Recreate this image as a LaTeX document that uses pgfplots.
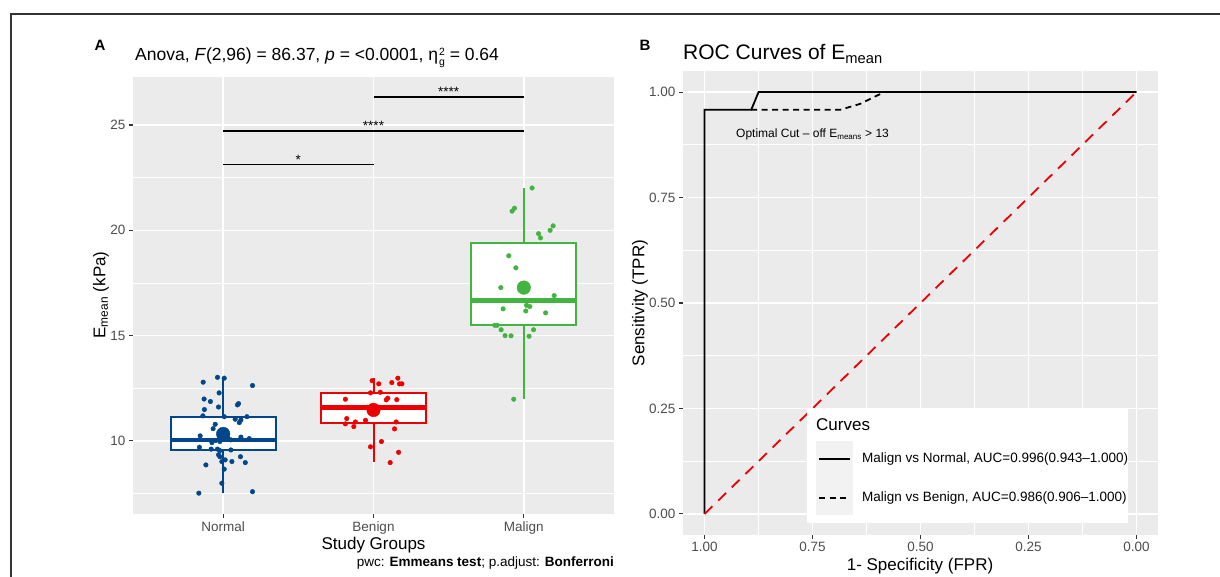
\documentclass[border=0pt]{standalone}
\usepackage{fontspec}
\setmainfont{Liberation Sans}
\usepackage{pgfplots}
\pgfplotsset{compat=1.18}
\definecolor{panel}{HTML}{EBEBEB}
\definecolor{nblue}{HTML}{00468B}
\definecolor{nred}{HTML}{ED0000}
\definecolor{ngreen}{HTML}{42B540}
\definecolor{tickgray}{HTML}{333333}
\definecolor{labgray}{HTML}{4D4D4D}
\definecolor{keybg}{HTML}{F2F2F2}
\newcommand{\fs}[1]{\fontsize{#1}{#1}\selectfont}
\pgfplotsset{
 gg/.style={
  scale only axis,
  axis background/.style={fill=panel},
  axis line style={draw=none},
  tick align=outside,
  tick pos=left,
  major tick length=4pt,
  minor tick length=0pt,
  tick style={color=tickgray, line width=1.1pt},
  grid=both,
  major grid style={white, line width=1.6pt},
  minor grid style={white, line width=0.8pt},
  ticklabel style={font=\fs{13.5}, text=labgray},
  /pgf/number format/assume math mode=true,
 },
 wh/.style={line width=2pt},
 bx/.style={line width=2pt, fill=white, line join=miter},
 md/.style={line width=4.5pt},
}
\begin{document}
\begin{tikzpicture}
\useasboundingbox (0pt,0pt) rectangle (1220pt,577pt);
\draw[line width=1.2pt, black!80] (11pt,0pt) -- (11pt,563pt) -- (1220pt,563pt);

% ---------------- Panel A ----------------
\begin{axis}[gg, at={(133pt,63pt)}, anchor=south west, width=481pt, height=437pt,
  xmin=0.4, xmax=3.6, ymin=6.53, ymax=27.28,
  xtick={1,2,3}, xticklabels={Normal,Benign,Malign},
  ytick={10,15,20,25}, minor ytick={7.5,12.5,17.5,22.5},
  ]
% Normal
\addplot[wh, nblue] coordinates {(1,7.52)(1,13.02)};
\addplot[bx, draw=nblue] coordinates {(0.65,9.57)(1.35,9.57)(1.35,11.15)(0.65,11.15)} -- cycle;
\addplot[md, nblue] coordinates {(0.65,10.05)(1.35,10.05)};
% Benign
\addplot[wh, nred] coordinates {(2,9.0)(2,12.98)};
\addplot[bx, draw=nred] coordinates {(1.65,10.84)(2.35,10.84)(2.35,12.28)(1.65,12.28)} -- cycle;
\addplot[md, nred] coordinates {(1.65,11.58)(2.35,11.58)};
% Malign
\addplot[wh, ngreen] coordinates {(3,12.01)(3,22.0)};
\addplot[bx, draw=ngreen] coordinates {(2.65,15.51)(3.35,15.51)(3.35,19.42)(2.65,19.42)} -- cycle;
\addplot[md, ngreen] coordinates {(2.65,16.66)(3.35,16.66)};

\addplot[only marks, mark=*, mark size=2.3pt, color=nblue] coordinates {
(0.962,13.02)(1.007,12.98)(0.867,12.79)(1.195,12.63)(0.973,12.28)(0.873,11.99)
(0.915,11.87)(1.102,11.77)(1.095,11.71)(0.969,11.61)(0.875,11.49)(0.865,11.19)
(1.007,11.15)(1.08,11.03)(1.158,11.15)(1.118,11.0)(1.107,10.87)(0.947,10.79)
(0.933,10.58)(0.847,10.24)(0.925,9.92)(0.978,9.97)(1.051,10.05)(1.118,10.18)
(1.173,10.11)(0.842,9.70)(0.92,9.61)(0.962,9.61)(0.978,9.54)(1.051,9.57)
(0.969,9.34)(0.978,9.25)(1.115,9.25)(1.013,9.10)(0.991,9.02)(1.058,9.02)
(1.147,8.97)(0.885,8.86)(1.007,8.66)(0.991,7.99)(0.838,7.52)(1.195,7.59)
(0.99,10.35)(1.03,10.15)(0.95,10.02)};
\addplot[only marks, mark=*, mark size=2.3pt, color=nred] coordinates {
(1.991,12.86)(2.035,12.71)(2.162,12.98)(2.122,12.77)(2.173,12.71)(2.189,12.71)
(1.98,12.28)(2.045,12.31)(1.813,11.98)(2.085,11.95)(2.095,12.03)(2.155,11.96)
(1.822,11.06)(1.88,10.90)(1.947,10.98)(2.151,10.90)(1.813,10.81)(1.869,10.68)
(2.14,10.57)(2.053,9.97)(1.98,9.72)(2.167,9.46)(2.111,8.97)(2.0,11.45)(1.96,11.6)};
\addplot[only marks, mark=*, mark size=2.3pt, color=ngreen] coordinates {
(3.055,22.01)(2.938,21.05)(2.922,20.91)(3.195,20.21)(3.175,20.00)(3.098,19.84)
(3.111,19.64)(2.9,18.79)(2.947,18.22)(2.847,17.28)(3.202,16.90)(2.862,16.27)
(3.018,16.44)(3.04,16.38)(3.013,16.17)(3.145,16.08)(2.807,15.49)(2.822,15.49)
(2.849,15.28)(2.875,15.0)(2.915,14.99)(3.035,14.97)(3.065,15.28)(2.933,11.98)};

\addplot[only marks, mark=*, mark size=6.8pt, color=nblue] coordinates {(1,10.33)};
\addplot[only marks, mark=*, mark size=6.8pt, color=nred] coordinates {(2,11.47)};
\addplot[only marks, mark=*, mark size=6.8pt, color=ngreen] coordinates {(3,17.28)};

\addplot[black, line width=1.2pt] coordinates {(1,23.11)(2,23.11)};
\addplot[black, line width=1.2pt] coordinates {(1,24.72)(3,24.72)};
\addplot[black, line width=1.2pt] coordinates {(2,26.33)(3,26.33)};
\node[anchor=base, inner sep=0pt, font=\fs{13.5}] at (axis cs:1.5,23.11) {*};
\node[anchor=base, inner sep=0pt, font=\fs{13.5}] at (axis cs:2,24.72) {****};
\node[anchor=base, inner sep=0pt, font=\fs{13.5}] at (axis cs:2.5,26.33) {****};
\end{axis}

% ---------------- Panel B ----------------
\begin{axis}[gg, at={(683pt,42pt)}, anchor=south west, width=475pt, height=464pt,
  xmin=-0.05, xmax=1.05, ymin=-0.05, ymax=1.05, x dir=reverse,
  xtick={0,0.25,0.5,0.75,1}, ytick={0,0.25,0.5,0.75,1},
  minor xtick={0.125,0.375,0.625,0.875}, minor ytick={0.125,0.375,0.625,0.875},
  xticklabel style={/pgf/number format/.cd, fixed, fixed zerofill, precision=2},
  yticklabel style={/pgf/number format/.cd, fixed, fixed zerofill, precision=2},
  ]
\addplot[black, line width=1.8pt, dash pattern=on 6pt off 4.5pt] coordinates {(0.892,0.958)(0.686,0.958)(0.64,0.972)(0.584,1)(0,1)};
\addplot[black, line width=1.8pt] coordinates {(1,0)(1,0.958)(0.892,0.958)(0.875,1)(0,1)};
\addplot[nred, line width=1.8pt, dash pattern=on 11pt off 8pt] coordinates {(1,0)(0,1)};
\node[font=\fs{12}] at (axis cs:0.75,0.9) {Optimal Cut – off E\textsubscript{means} > 13};
\end{axis}

% legend
\fill[white] (807pt,54pt) rectangle (1128pt,168pt);
\fill[keybg] (816pt,62pt) rectangle (853pt,136pt);
\draw[black, line width=1.8pt] (819pt,118pt) -- (850pt,118pt);
\draw[black, line width=1.8pt, dash pattern=on 6pt off 4.5pt] (819pt,79pt) -- (850pt,79pt);
\node[anchor=west, inner sep=0pt, font=\fs{17}] at (816pt,152pt) {Curves};
\node[anchor=west, inner sep=0pt, font=\fs{13.5}] at (862pt,118pt) {Malign vs Normal, AUC=0.996(0.943–1.000)};
\node[anchor=west, inner sep=0pt, font=\fs{13.5}] at (862pt,79pt) {Malign vs Benign, AUC=0.986(0.906–1.000)};

% titles and labels
\node[font=\bfseries\fs{15}] at (100pt,532pt) {A};
\node[font=\bfseries\fs{15}] at (645pt,532pt) {B};
\node[anchor=base west, inner sep=0pt, font=\fs{17.5}] at (135pt,516pt) {Anova, \textit{F}(2,96) = 86.37, \textit{p} = <0.0001, η\kern1pt\raisebox{-5pt}{\fs{10.5}\shortstack[l]{2\\[2pt]g}} = 0.64};
\node[anchor=base west, inner sep=0pt, font=\fs{21}] at (683pt,517pt) {ROC Curves of E\textsubscript{mean}};
\node[anchor=base, inner sep=0pt, font=\fs{17}] at (373.5pt,27pt) {Study Groups};
\node[anchor=base east, inner sep=0pt, font=\fs{13.5}] at (614pt,10pt) {pwc: \textbf{Emmeans test}; p.adjust: \textbf{Bonferroni}};
\node[anchor=base, inner sep=0pt, font=\fs{17}] at (920pt,6pt) {1- Specificity (FPR)};
\node[rotate=90, font=\fs{17}] at (101pt,282pt) {E\textsubscript{mean} (kPa)};
\node[rotate=90, font=\fs{17}] at (640pt,274pt) {Sensitivity (TPR)};
\end{tikzpicture}
\end{document}
